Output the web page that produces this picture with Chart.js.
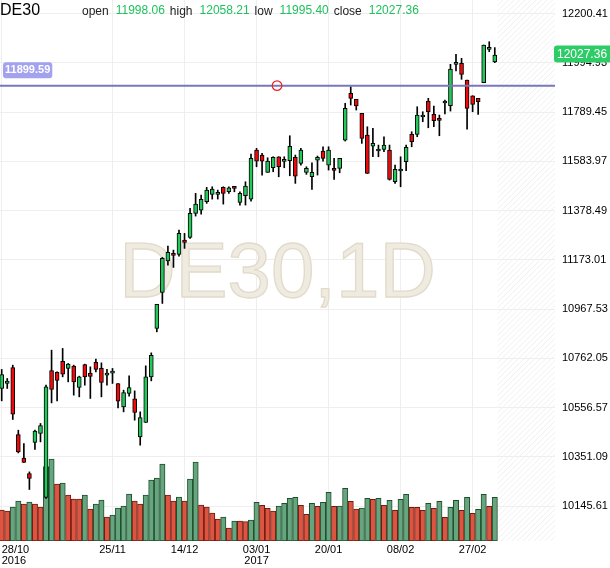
<!DOCTYPE html>
<html><head><meta charset="utf-8">
<script src="https://cdn.jsdelivr.net/npm/chart.js@4.4.0/dist/chart.umd.min.js"></script>
<style>html,body{margin:0;padding:0;background:#fff;overflow:hidden}canvas{display:block}</style>
</head><body>
<canvas id="c" width="610" height="568"></canvas>
<script>
const symbol = 'DE30';
const timeframe = '1D';
const dates = ['28/10','31/10','01/11','02/11','03/11','04/11','07/11','08/11','09/11','10/11',
 '11/11','14/11','15/11','16/11','17/11','18/11','21/11','22/11','23/11','24/11',
 '25/11','28/11','29/11','30/11','01/12','02/12','05/12','06/12','07/12','08/12',
 '09/12','12/12','13/12','14/12','15/12','16/12','19/12','20/12','21/12','22/12',
 '23/12','27/12','28/12','29/12','30/12','02/01','03/01','04/01','05/01','06/01',
 '09/01','10/01','11/01','12/01','13/01','16/01','17/01','18/01','19/01','20/01',
 '23/01','24/01','25/01','26/01','27/01','30/01','31/01','01/02','02/02','03/02',
 '06/02','07/02','08/02','09/02','10/02','13/02','14/02','15/02','16/02','17/02',
 '20/02','21/02','22/02','23/02','24/02','27/02','28/02','01/03','02/03','03/03'];
const openP = [10636.7,10657.6,10724.3,10444.8,10345.9,10282.1,10411.4,10449.0,10182.0,10711.8,
 10703.5,10749.4,10720.2,10729.8,10640.9,10736.8,10700.6,10745.2,10720.2,10692.2,
 10701.0,10657.6,10560.0,10615.9,10593.3,10434.8,10494.9,10685.1,10887.0,11037.2,
 11169.1,11199.9,11195.8,11255.4,11266.7,11366.8,11380.6,11415.2,11446.1,11446.1,
 11475.3,11456.9,11475.3,11412.7,11440.2,11426.5,11630.9,11610.0,11537.9,11557.1,
 11603.0,11584.0,11586.3,11600.4,11575.4,11537.9,11519.5,11589.2,11626.7,11568.3,
 11548.5,11554.6,11672.6,11867.5,11842.4,11784.0,11693.5,11647.6,11627.0,11633.8,
 11630.9,11498.7,11543.5,11582.1,11696.4,11696.4,11768.8,11835.3,11779.8,11757.0,
 11827.0,11815.7,11988.4,11992.6,11922.9,11857.4,11846.6,11911.7,12051.0,11998.06];
const highP = [10716.0,10678.4,10733.9,10462.7,10407.3,10288.8,10462.7,10490.7,10650.5,10796.5,
 10706.0,10803.6,10741.0,10733.9,10688.0,10738.1,10726.8,10759.0,10743.5,10716.0,
 10720.2,10657.6,10629.6,10689.3,10626.7,10539.1,10731.0,10785.2,10987.2,11183.2,
 11230.4,11213.7,11297.1,11283.4,11387.7,11450.3,11443.2,11475.3,11477.8,11464.0,
 11477.8,11477.8,11476.5,11456.9,11498.7,11614.2,11638.0,11617.1,11598.8,11603.0,
 11603.0,11603.0,11690.6,11610.0,11638.0,11561.2,11577.9,11605.9,11644.7,11644.7,
 11596.3,11596.3,11825.7,11895.0,11842.4,11784.0,11728.1,11721.4,11651.8,11686.4,
 11651.8,11568.3,11603.0,11651.8,11707.3,11811.6,11790.7,11846.6,11814.5,11776.9,
 11839.5,11988.4,12030.2,12013.5,11922.9,11857.4,11846.6,12069.0,12082.7,12058.21];
const lowP = [10585.0,10636.7,10507.4,10368.0,10328.0,10215.3,10382.2,10413.9,10177.8,10576.6,
 10585.0,10685.1,10664.3,10608.8,10601.7,10650.5,10595.0,10706.0,10601.7,10650.5,
 10657.6,10555.8,10539.1,10604.6,10504.5,10400.2,10494.9,10668.4,10872.8,10991.3,
 11151.1,11141.5,11188.7,11220.8,11262.5,11355.6,11363.9,11408.5,11426.5,11426.5,
 11405.6,11450.3,11456.9,11401.4,11401.4,11418.1,11561.2,11526.6,11537.9,11540.4,
 11519.5,11557.1,11523.7,11492.0,11568.3,11529.5,11466.9,11526.6,11585.0,11547.5,
 11508.7,11536.2,11668.5,11818.6,11797.8,11658.9,11533.7,11603.0,11603.0,11623.8,
 11505.7,11492.0,11477.8,11544.5,11644.7,11686.4,11749.0,11723.9,11728.1,11690.6,
 11782.0,11793.6,11960.5,11925.9,11718.5,11790.7,11779.8,11911.7,12041.0,11995.40];
const closeP = [10695.1,10667.2,10529.5,10372.2,10328.0,10261.2,10458.6,10482.4,10643.4,10632.5,
 10670.1,10696.4,10738.1,10664.3,10685.1,10685.1,10686.8,10716.0,10661.7,10694.0,
 10703.0,10583.7,10620.0,10640.9,10536.6,10515.7,10685.1,10774.4,10987.2,11179.1,
 11204.1,11191.6,11283.4,11245.8,11366.8,11405.6,11425.2,11464.0,11468.2,11454.4,
 11450.3,11473.6,11471.1,11450.3,11480.7,11596.3,11585.0,11585.0,11585.0,11600.4,
 11561.2,11586.0,11646.3,11522.4,11630.9,11554.6,11537.9,11600.4,11596.3,11630.9,
 11546.5,11596.3,11804.9,11846.6,11814.5,11679.7,11533.7,11658.9,11629.0,11651.8,
 11508.7,11550.4,11545.5,11642.2,11665.5,11776.9,11770.8,11790.7,11753.1,11755.0,
 11829.0,11968.8,11996.8,11946.7,11804.9,11821.6,11832.4,12069.0,12059.4,12027.36];
const volume = [31000,30000,34000,40000,37000,39000,37000,34000,74300,82000,
 57000,58000,46000,42000,41800,46000,32000,37000,41000,24000,
 26000,33000,35000,47000,40000,37000,46000,61000,63000,77000,
 46000,40000,44000,40000,62000,79000,36000,34000,28000,22000,
 24000,13000,20000,19800,19300,21000,38700,35700,32700,30000,
 35000,37700,42700,43700,35700,26700,37700,34700,38700,48700,
 34700,34900,52700,39700,32000,33000,42700,41700,42700,35700,
 40700,30700,41700,46700,33700,33600,30700,37700,32700,39700,
 23700,33700,40700,30700,43700,27700,31700,46700,34700,43700];
const yTicks = [10145.61,10351.09,10556.57,10762.05,10967.53,11173.01,11378.49,11583.97,11789.45,11994.93,12200.41];
const yMin = 10000.6, yMax = 12256.7;
const volMax = 541000;
const xMin = -0.307, xMax = 99.87;
const xTickDates = ['28/10','25/11','14/12','03/01','20/01','08/02','27/02'];
const xTickYears = ['2016','','','2017','','',''];
const levelValue = 11899.59;
const levelMarkerIndex = 49.7;

const xTickIdx = xTickDates.map(d => dates.indexOf(d));
const last = dates.length - 1;
const upFill = '#22c95a', downFill = '#ee0a0a';
const volUp = '#66a57e', volUpB = '#1f4e2e', volDown = '#dc5541', volDownB = '#701b12';

Chart.defaults.font.family = '"Liberation Sans", Arial, sans-serif';

const overlay = {
  id: 'overlay',
  beforeDatasetsDraw(chart) {
    const {ctx, chartArea: a, scales: {x}} = chart;
    const hx = x.getPixelForValue(dates.length - 0.5);
    const H = a.bottom - a.top;
    ctx.save();
    ctx.beginPath(); ctx.rect(hx, a.top, a.right - hx, H); ctx.clip();
    ctx.strokeStyle = '#f0f0f0'; ctx.lineWidth = 1;
    for (let s = hx - H; s < a.right + 6; s += 5.5) {
      ctx.beginPath(); ctx.moveTo(s, a.bottom); ctx.lineTo(s + H, a.top); ctx.stroke();
    }
    ctx.restore();
    ctx.save();
    ctx.font = '78px "Liberation Sans", Arial, sans-serif';
    ctx.textAlign = 'center'; ctx.textBaseline = 'alphabetic';
    ctx.fillStyle = '#efebe1'; ctx.strokeStyle = '#e2dbcb'; ctx.lineWidth = 1.3;
    const wx = (a.left + a.right) / 2, wy = (a.top + a.bottom) / 2 + 26;
    ctx.fillText(symbol + ',' + timeframe, wx, wy);
    ctx.strokeText(symbol + ',' + timeframe, wx, wy);
    ctx.restore();
  },
  afterDatasetsDraw(chart) {
    const {ctx, chartArea: a, scales: {x, y}} = chart;
    const ly = y.getPixelForValue(levelValue);
    ctx.save();
    ctx.strokeStyle = '#7777bb'; ctx.lineWidth = 2;
    ctx.beginPath(); ctx.moveTo(a.left, ly); ctx.lineTo(a.right, ly); ctx.stroke();
    ctx.strokeStyle = '#ee2020'; ctx.lineWidth = 1.2;
    ctx.beginPath(); ctx.arc(x.getPixelForValue(levelMarkerIndex), ly, 4.8, 0, Math.PI * 2); ctx.stroke();
    ctx.restore();
  },
  afterDraw(chart) {
    const {ctx, chartArea: a, scales: {y}} = chart;
    ctx.save();
    ctx.textBaseline = 'alphabetic'; ctx.textAlign = 'left';
    ctx.font = '16px "Liberation Sans", Arial, sans-serif';
    ctx.fillStyle = '#000';
    ctx.fillText(symbol, 0, 15);
    const items = [['open', openP[last]], ['high', highP[last]], ['low', lowP[last]], ['close', closeP[last]]];
    let hx = 82;
    ctx.font = '12px "Liberation Sans", Arial, sans-serif';
    items.forEach(([lab, val]) => {
      ctx.fillStyle = '#222'; ctx.fillText(lab, hx, 15);
      hx += ctx.measureText(lab).width + 7;
      const t = val.toFixed(2);
      ctx.fillStyle = '#1ec25c'; ctx.fillText(t, hx, 13.5);
      hx += ctx.measureText(t).width + 5;
    });
    const ly = y.getPixelForValue(levelValue);
    ctx.font = 'bold 11px "Liberation Sans", Arial, sans-serif';
    const lt = levelValue.toFixed(2);
    const lw = ctx.measureText(lt).width + 4;
    ctx.fillStyle = '#a2a2ef';
    ctx.beginPath(); ctx.roundRect(3, ly - 23.5, lw, 16, 3); ctx.fill();
    ctx.fillStyle = '#fff'; ctx.textBaseline = 'middle';
    ctx.fillText(lt, 5, ly - 15.3);
    const cy = y.getPixelForValue(closeP[last]) - 1;
    ctx.fillStyle = '#2dcc66';
    ctx.beginPath(); ctx.roundRect(a.right - 1, cy - 8.5, 62, 17, 3); ctx.fill();
    ctx.font = '12px "Liberation Sans", Arial, sans-serif';
    ctx.fillStyle = '#fff';
    ctx.fillText(closeP[last].toFixed(2), a.right + 2, cy + 0.5);
    ctx.restore();
  }
};

new Chart(document.getElementById('c'), {
  type: 'bar',
  data: {
    datasets: [
      {
        label: 'body',
        data: dates.map((d, i) => ({x: i, y: [openP[i], closeP[i]]})),
        backgroundColor: dates.map((d, i) => closeP[i] >= openP[i] ? upFill : downFill),
        borderColor: '#000', borderWidth: 1, borderSkipped: false,
        barThickness: 4, minBarLength: 2, grouped: false,
        xAxisID: 'x', yAxisID: 'y', order: 0
      },
      {
        label: 'wick',
        data: dates.map((d, i) => ({x: i, y: [lowP[i], highP[i]]})),
        backgroundColor: '#000', borderWidth: 0,
        barThickness: 1, grouped: false,
        xAxisID: 'x', yAxisID: 'y', order: 1
      },
      {
        label: 'volume',
        data: dates.map((d, i) => ({x: i, y: volume[i]})),
        backgroundColor: volume.map((v, i) => i > 0 && v > volume[i - 1] ? volUp : volDown),
        borderColor: volume.map((v, i) => i > 0 && v > volume[i - 1] ? volUpB : volDownB),
        borderWidth: 1, borderSkipped: false,
        barThickness: 5.3, grouped: false,
        xAxisID: 'x', yAxisID: 'yv', order: 2
      }
    ]
  },
  options: {
    responsive: false,
    animation: false,
    layout: {padding: 0},
    plugins: {legend: {display: false}, tooltip: {enabled: false}},
    scales: {
      x: {
        type: 'linear', min: xMin, max: xMax, offset: false,
        afterBuildTicks: s => { s.ticks = xTickIdx.map(v => ({value: v})).concat([{value: xMax}]); },
        afterFit: s => { s.height = 27; s.paddingLeft = 0; s.paddingRight = 0; },
        grid: {
          offset: false, drawTicks: false,
          color: c => (c.tick && c.tick.value === xMax) ? 'rgba(0,0,0,0)' : '#eeeeee'
        },
        border: {display: false},
        ticks: {
          autoSkip: false, maxRotation: 0, minRotation: 0, align: 'inner', padding: 3,
          color: '#000', font: {size: 11, lineHeight: 1},
          callback: v => {
            const k = xTickIdx.indexOf(v);
            if (k < 0) return '';
            return xTickYears[k] ? [xTickDates[k], xTickYears[k]] : xTickDates[k];
          }
        }
      },
      y: {
        type: 'linear', position: 'right', min: yMin, max: yMax, beginAtZero: false,
        afterBuildTicks: s => { s.ticks = yTicks.map(v => ({value: v})); },
        afterFit: s => { s.width = 55; s.paddingTop = 0; s.paddingBottom = 0; },
        grid: {drawTicks: false, color: '#eeeeee'},
        border: {display: false},
        ticks: {padding: 7, color: '#000', font: {size: 11}, callback: v => Number(v).toFixed(2)}
      },
      yv: {
        type: 'linear', position: 'left', display: false, min: 0, max: volMax,
        afterFit: s => { s.width = 0; s.paddingTop = 0; s.paddingBottom = 0; }
      }
    }
  },
  plugins: [overlay]
});
</script>
</body></html>
